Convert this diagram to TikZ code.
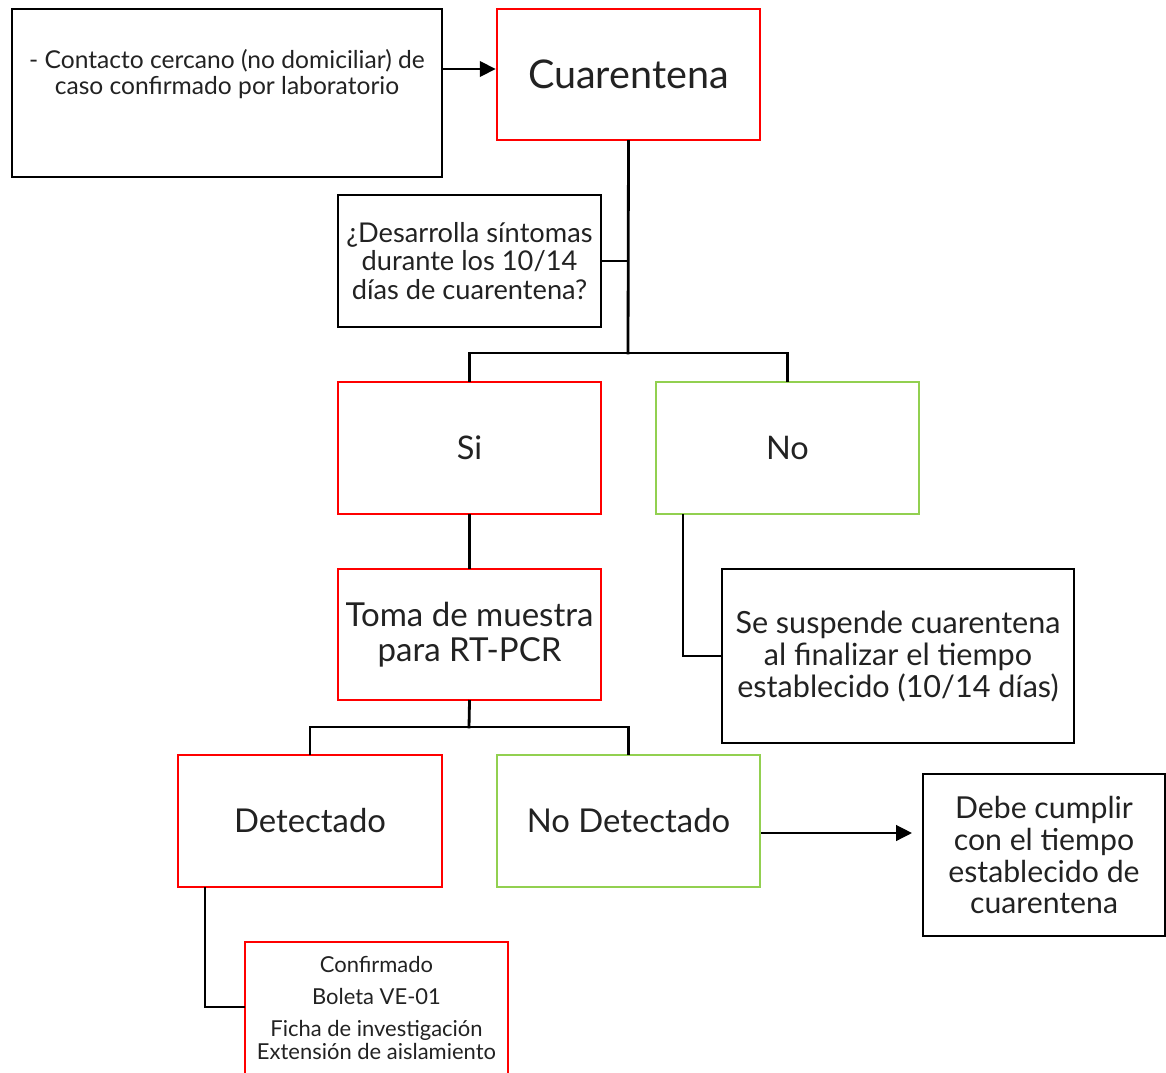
\documentclass[tikz,border=0pt]{standalone}
\usepackage{fontspec}
\setmainfont{Lato}
\usepackage{tikz}
\usetikzlibrary{arrows.meta}

\definecolor{rojo}{RGB}{255,0,0}
\definecolor{verde}{RGB}{146,208,80}
\definecolor{texto}{RGB}{34,34,34}

\begin{document}
\begin{tikzpicture}[x=0.02cm,y=-0.02cm,
    caja/.style={draw=black,line width=1.6pt,minimum width=#1*0.02cm,inner sep=0pt,align=center,text=texto},
    cajaroja/.style={caja=#1,draw=rojo},
    cajaverde/.style={caja=#1,draw=verde},
    linea/.style={line width=1.6pt,line cap=rect},
    flecha/.style={line width=0.8pt,-{Triangle[length=9pt,width=9pt]}}]
  \useasboundingbox (0,0) rectangle (1166,1072);
  % cajas de arriba
  \node[caja=430,minimum height=168*0.02cm] (contacto) at (227,93) {};
  \node[text=texto,align=center,font=\fontsize{14}{14.7}\selectfont] (contactotxt) at (227,74)
    {- Contacto cercano (no domiciliar) de\\caso confirmado por laboratorio};
  \node[cajaroja=263,minimum height=131*0.02cm,font=\fontsize{22.5}{24}\selectfont] (cuarentena) at (628.5,74.5) {Cuarentena};
  \node[caja=263,minimum height=132*0.02cm,font=\fontsize{15.5}{16.4}\selectfont] (pregunta) at (469.5,261) {¿Desarrolla síntomas\\durante los 10/14\\días de cuarentena?};
  % si / no
  \node[cajaroja=263,minimum height=132*0.02cm,font=\fontsize{18.5}{20}\selectfont] (si) at (469.5,448) {Si};
  \node[cajaverde=263,minimum height=132*0.02cm,font=\fontsize{18.5}{20}\selectfont] (no) at (787.5,448) {No};
  \node[cajaroja=263,minimum height=131*0.02cm,font=\fontsize{18.8}{20}\selectfont] (toma) at (469.5,634.5) {Toma de muestra\\para RT-PCR};
  \node[caja=352,minimum height=174*0.02cm,font=\fontsize{17.4}{18.2}\selectfont] (suspende) at (898,656) {Se suspende cuarentena\\al finalizar el tiempo\\establecido (10/14 días)};
  % resultados
  \node[cajaroja=264,minimum height=132*0.02cm,font=\fontsize{18.7}{20}\selectfont] (detectado) at (310,821) {Detectado};
  \node[cajaverde=263,minimum height=132*0.02cm,font=\fontsize{18.7}{20}\selectfont] (nodetectado) at (628.5,821) {No Detectado};
  \node[caja=242,minimum height=162*0.02cm,font=\fontsize{17.2}{18.2}\selectfont] (debe) at (1044,855) {Debe cumplir\\con el tiempo\\establecido de\\cuarentena};
  \node[cajaroja=263,minimum height=160*0.02cm] (confirmado) at (376.5,1022) {};
  \node[text=texto,align=center,font=\fontsize{12.5}{13}\selectfont] (confirmadotxt) at (376.5,1008)
    {Confirmado\\[5pt]Boleta VE-01\\[5pt]Ficha de investigación\\Extensión de aislamiento};
  % conectores
  \coordinate (c1) at (628,261);
  \coordinate (c2) at (628,353);
  \coordinate (c3) at (469,727);
  \coordinate (c4) at (683,656);
  \coordinate (c5) at (205,1007);
  \coordinate (f1) at (442,69);
  \coordinate (f2) at (760,833);
  \draw[flecha] (contacto.east |- f1) -- (cuarentena.west |- f1);
  \draw[linea] (cuarentena.south) -- (c2);
  \draw[linea] (pregunta.east) -- (c1);
  \draw[linea] (si.north) |- (c2) -| (no.north);
  \draw[linea] (si.south) -- (toma.north);
  \draw[linea] (toma.south) -- (c3);
  \draw[linea] (detectado.north) |- (c3) -| (nodetectado.north);
  \draw[linea] (no.south -| c4) |- (suspende.west);
  \draw[flecha,shorten >=5.5pt] (nodetectado.east |- f2) -- (debe.west |- f2);
  \draw[linea] (detectado.south -| c5) |- (confirmado.west |- c5);
\end{tikzpicture}
\end{document}
